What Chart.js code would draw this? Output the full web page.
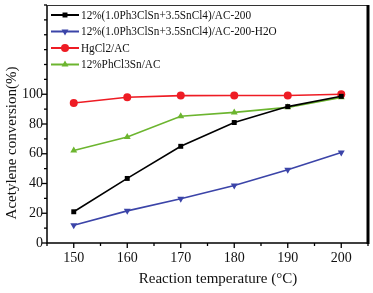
<!DOCTYPE html>
<html><head><meta charset="utf-8">
<script src="https://cdn.jsdelivr.net/npm/chart.js@4/dist/chart.umd.min.js"></script>
<style>html,body{margin:0;padding:0;background:#fff;}#wrap{width:373px;height:293px;position:relative;}</style>
</head><body><div id="wrap"><canvas id="c" width="373" height="293"></canvas></div>
<script>
const temperatures = [150, 160, 170, 180, 190, 200];
const seriesNames = [
  "12%(1.0Ph3ClSn+3.5SnCl4)/AC-200",
  "12%(1.0Ph3ClSn+3.5SnCl4)/AC-200-H2O",
  "HgCl2/AC",
  "12%PhCl3Sn/AC"
];
const snAC200 = [21, 43.4, 65, 81, 91.7, 98.6];
const snAC200H2O = [11.9, 21.6, 29.7, 38.7, 49.3, 60.8];
const hgcl2 = [94.1, 98, 99.1, 99.2, 99.2, 100];
const phcl3sn = [62.2, 71.2, 85.2, 87.8, 91.2, 97.9];
const xTickValues = [150, 160, 170, 180, 190, 200];
const yTickValues = [0, 20, 40, 60, 80, 100];

const FONT = "'Liberation Serif', 'Times New Roman', serif";
const colors = ['#000000', '#3b44a8', '#ee1c24', '#6cb52f'];
const styles = ['rect', 'triangle', 'circle', 'triangle'];
const rots = [0, 180, 0, 0];
const allValues = [snAC200, snAC200H2O, hgcl2, phcl3sn];

const datasets = allValues.map((vals, i) => ({
  label: seriesNames[i],
  data: temperatures.map((t, j) => ({x: t, y: vals[j]})),
  borderColor: colors[i],
  backgroundColor: colors[i],
  borderWidth: 1.6,
  pointStyle: styles[i],
  rotation: rots[i],
  pointRadius: styles[i] === 'rect' ? 3.5 : 4,
  pointBorderWidth: 0,
  tension: 0
}));

const decor = {
  id: 'decor',
  afterDraw(chart) {
    const ctx = chart.ctx;
    const a = chart.chartArea;
    const xs = chart.scales.x, ys = chart.scales.y;
    ctx.save();
    ctx.strokeStyle = '#000';
    ctx.lineWidth = 1.5;
    ctx.beginPath();
    ctx.moveTo(a.left, a.top); ctx.lineTo(a.left, a.bottom); ctx.lineTo(a.right, a.bottom);
    ctx.stroke();
    ctx.strokeStyle = '#333';
    ctx.lineWidth = 1;
    ctx.beginPath();
    ctx.moveTo(a.left, a.top + 0.5); ctx.lineTo(a.right, a.top + 0.5);
    ctx.stroke();
    ctx.strokeStyle = '#000';
    ctx.lineWidth = 3;
    ctx.beginPath();
    ctx.moveTo(a.right, a.top); ctx.lineTo(a.right, a.bottom + 1);
    ctx.stroke();
    ctx.lineWidth = 1.3;
    for (let v = xs.min; v <= xs.max; v += 5) {
      const px = xs.getPixelForValue(v);
      const major = v % 10 === 0;
      ctx.beginPath();
      ctx.moveTo(px, a.bottom); ctx.lineTo(px, a.bottom + (major ? 5 : 3));
      ctx.stroke();
    }
    for (let v = ys.min; v <= ys.max; v += 10) {
      const py = ys.getPixelForValue(v);
      const major = v % 20 === 0 && v <= 100;
      ctx.beginPath();
      ctx.moveTo(a.left, py); ctx.lineTo(a.left - (major ? 5 : 3), py);
      ctx.stroke();
    }
    // legend
    ctx.textBaseline = 'middle';
    const rowsY = [15, 31.5, 48, 64.5];
    chart.data.datasets.forEach((ds, i) => {
      const y = rowsY[i];
      ctx.strokeStyle = ds.borderColor;
      ctx.lineWidth = 2;
      ctx.beginPath(); ctx.moveTo(51, y); ctx.lineTo(79, y); ctx.stroke();
      ctx.fillStyle = ds.backgroundColor;
      Chart.helpers.drawPoint(ctx, {pointStyle: ds.pointStyle, rotation: ds.rotation, radius: ds.pointRadius, borderWidth: 0}, 65, y);
      ctx.fillStyle = '#111';
      ctx.save();
      ctx.translate(81, y + 0.5);
      ctx.scale(0.9, 1);
      ctx.font = '12.5px ' + FONT;
      ctx.fillText(ds.label, 0, 0);
      ctx.restore();
    });
    ctx.fillStyle = '#111';
    ctx.font = '15px ' + FONT;
    ctx.textAlign = 'center';
    ctx.fillText('Reaction temperature (\u00B0C)', 218, 279);
    ctx.translate(12, 143);
    ctx.rotate(-Math.PI / 2);
    ctx.fillText('Acetylene conversion(%)', 0, 0);
    ctx.restore();
  }
};

new Chart(document.getElementById('c'), {
  type: 'line',
  data: { datasets },
  options: {
    responsive: false,
    animation: false,
    layout: { padding: { left: 0, right: 5, top: 5, bottom: 0 } },
    plugins: { legend: { display: false }, tooltip: { enabled: false } },
    scales: {
      x: {
        type: 'linear', min: 145, max: 205,
        afterFit(s) { s.height = 50; s.paddingLeft = 0; s.paddingRight = 0; },
        afterBuildTicks(s) { s.ticks = xTickValues.map(v => ({value: v})); },
        grid: { display: false, drawTicks: false },
        border: { display: false },
        ticks: { color: '#111', font: { family: FONT, size: 14 }, padding: 7, maxRotation: 0 }
      },
      y: {
        type: 'linear', min: 0, max: 160,
        afterFit(s) { s.width = 47; s.paddingTop = 0; s.paddingBottom = 0; },
        afterBuildTicks(s) { s.ticks = yTickValues.map(v => ({value: v})); },
        grid: { display: false, drawTicks: false },
        border: { display: false },
        ticks: { color: '#111', font: { family: FONT, size: 14 }, padding: 4 }
      }
    }
  },
  plugins: [decor]
});
</script>
</body></html>
